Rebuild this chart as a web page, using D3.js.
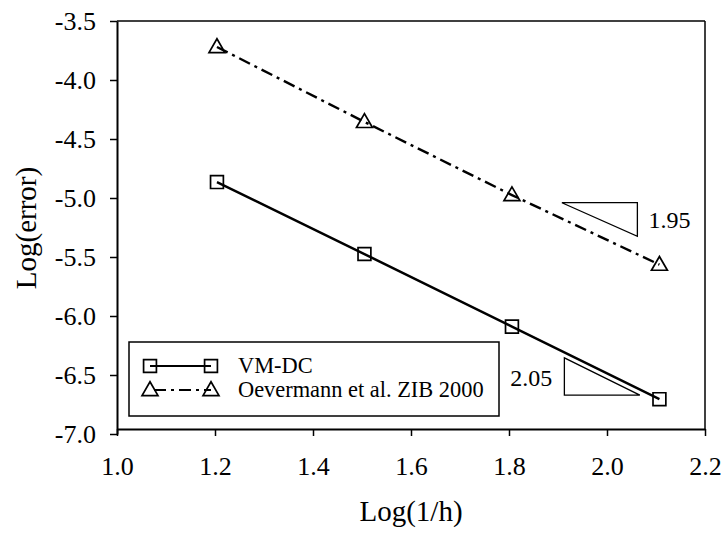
<!DOCTYPE html>
<html><head><meta charset="utf-8">
<script src="https://cdn.jsdelivr.net/npm/d3@7/dist/d3.min.js"></script>
<style>body{margin:0;background:#fff}svg{display:block}text{font-family:"Liberation Serif","Times New Roman",serif;fill:#000}</style>
</head><body><svg id="c" width="725" height="533"></svg>
<script>
const xVals = [1.204, 1.505, 1.806, 2.107];
const vmdc = [-4.865, -5.475, -6.09, -6.705];
const oever = [-3.72, -4.355, -4.975, -5.565];
const xTicks = [1.0, 1.2, 1.4, 1.6, 1.8, 2.0, 2.2];
const yTicks = [-3.5, -4.0, -4.5, -5.0, -5.5, -6.0, -6.5, -7.0];
const seriesNames = ["VM-DC", "Oevermann et al. ZIB 2000"];
const slopeLabels = ["1.95", "2.05"];
// slope triangles in data units
const tri1 = [[1.908, -5.04], [2.062, -5.04], [2.062, -5.325]];
const tri2 = [[1.913, -6.355], [1.913, -6.67], [2.067, -6.67]];

const svg = d3.select("#c");
const x = d3.scaleLinear().domain([1.0, 2.2]).range([117, 705]);
const y = d3.scaleLinear().domain([-3.5, -7.0]).range([21, 434]);
const frameBottom = 429;
const fmt = d => d3.format(".1f")(d).replace("−", "-");

// frame top/right
svg.append("line").attr("x1", 117).attr("x2", 705).attr("y1", 21).attr("y2", 21).attr("stroke", "#000").attr("stroke-width", 1.5);
svg.append("line").attr("x1", 705).attr("x2", 705).attr("y1", 21).attr("y2", frameBottom).attr("stroke", "#000").attr("stroke-width", 1.5);

// x axis
const xa = svg.append("g").attr("transform", `translate(0,${frameBottom})`)
  .call(d3.axisBottom(x).tickValues(xTicks).tickFormat(fmt).tickSizeInner(7).tickSizeOuter(0).tickPadding(21));
xa.select(".domain").attr("stroke-width", 2);
xa.selectAll(".tick line").attr("stroke-width", 1.5);
xa.selectAll("text").attr("font-size", 26).style("font-family", "Liberation Serif");

// y axis
const ya = svg.append("g").attr("transform", `translate(117,0)`)
  .call(d3.axisLeft(y).tickValues(yTicks).tickFormat(fmt).tickSizeInner(7).tickSizeOuter(0).tickPadding(14));
ya.select(".domain").attr("stroke-width", 2);
ya.selectAll(".tick line").attr("stroke-width", 1.5);
ya.selectAll("text").attr("font-size", 26).style("font-family", "Liberation Serif");

// axis titles
svg.append("text").attr("x", 411).attr("y", 521).attr("text-anchor", "middle").attr("font-size", 29).text("Log(1/h)");
svg.append("text").attr("transform", "translate(36,228) rotate(-90)").attr("text-anchor", "middle").attr("font-size", 29).text("Log(error)");

// lines
const line = d3.line().x(d => x(d[0])).y(d => y(d[1]));
const d1 = xVals.map((v, i) => [v, vmdc[i]]);
const d2 = xVals.map((v, i) => [v, oever[i]]);
svg.append("path").attr("d", line(d1)).attr("fill", "none").attr("stroke", "#000").attr("stroke-width", 2.4);
svg.append("path").attr("d", line(d2)).attr("fill", "none").attr("stroke", "#000").attr("stroke-width", 2.4).attr("stroke-dasharray", "12,5,3,5");

const sqSym = d3.symbol().type(d3.symbolSquare).size(165);
const trSym = d3.symbol().type(d3.symbolTriangle).size(110);
svg.selectAll(".sq").data(d1).join("path").attr("d", sqSym)
  .attr("transform", d => `translate(${x(d[0])},${y(d[1])})`).attr("fill", "none").attr("stroke", "#000").attr("stroke-width", 1.7);
svg.selectAll(".tr").data(d2).join("path").attr("d", trSym)
  .attr("transform", d => `translate(${x(d[0])},${y(d[1]) + 1})`).attr("fill", "none").attr("stroke", "#000").attr("stroke-width", 1.7);

// slope triangles
[tri1, tri2].forEach(t => {
  svg.append("path").attr("d", "M" + t.map(p => [x(p[0]), y(p[1])].join(",")).join("L") + "Z")
    .attr("fill", "none").attr("stroke", "#000").attr("stroke-width", 1.3);
});
svg.append("text").attr("x", x(2.062) + 11).attr("y", 228).attr("font-size", 24).text(slopeLabels[0]);
svg.append("text").attr("x", x(1.913) - 12).attr("y", 386).attr("text-anchor", "end").attr("font-size", 24).text(slopeLabels[1]);

// legend
const lg = svg.append("g");
lg.append("rect").attr("x", 129).attr("y", 342).attr("width", 370).attr("height", 74).attr("fill", "#fff").attr("stroke", "#000").attr("stroke-width", 1.5);
const rows = [366, 390];
rows.forEach((ry, i) => {
  const l = lg.append("line").attr("x1", 150).attr("x2", 211).attr("y1", ry).attr("y2", ry).attr("stroke", "#000").attr("stroke-width", 2);
  if (i === 1) l.attr("stroke-dasharray", "12,5,3,5").attr("stroke-dashoffset", -4);
  [150, 211].forEach(sx => {
    lg.append("path").attr("d", i === 0 ? sqSym : trSym).attr("transform", `translate(${sx},${ry + (i === 1 ? 1 : 0)})`)
      .attr("fill", "none").attr("stroke", "#000").attr("stroke-width", 1.7);
  });
  lg.append("text").attr("x", 238).attr("y", ry + 7).attr("font-size", 22.4).text(seriesNames[i]);
});
</script></body></html>
